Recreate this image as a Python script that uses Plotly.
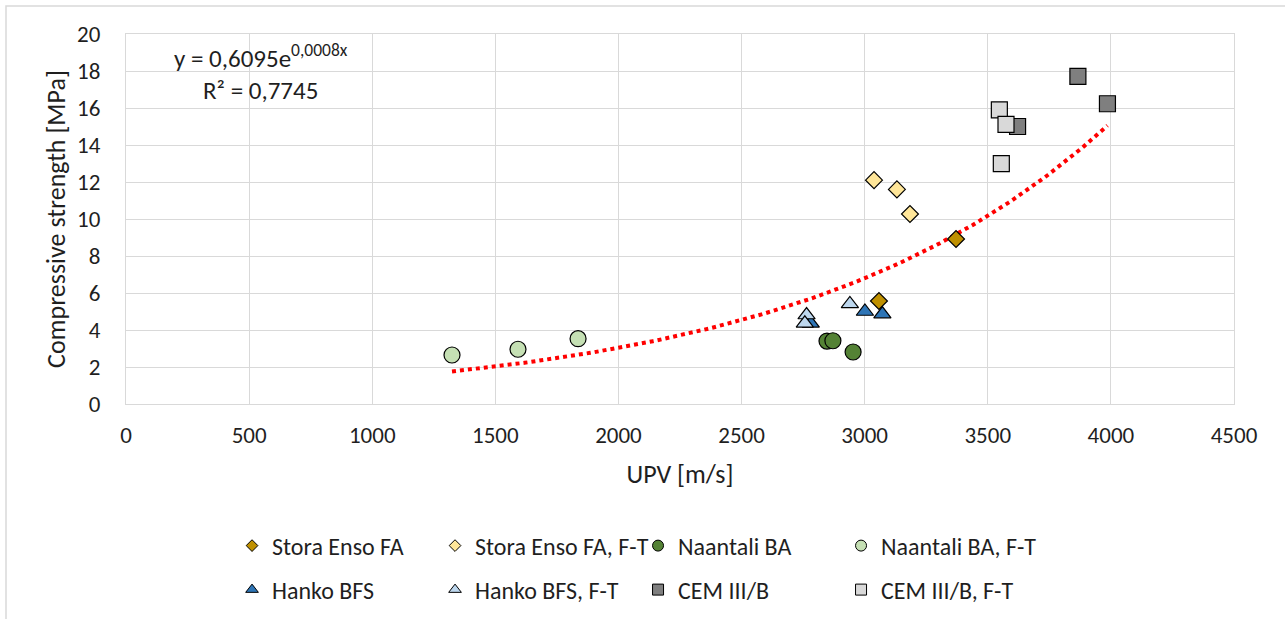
import numpy as np
import plotly.graph_objects as go

# ---- data ----
series_names = ["Stora Enso FA", "Stora Enso FA, F-T", "Naantali BA", "Naantali BA, F-T",
                "Hanko BFS", "Hanko BFS, F-T", "CEM III/B", "CEM III/B, F-T"]

stora_x = [3371, 3058]
stora_y = [8.92, 5.57]
stora_ft_x = [3038, 3131, 3184]
stora_ft_y = [12.1, 11.6, 10.27]
naan_x = [2847, 2871, 2953]
naan_y = [3.40, 3.42, 2.81]
naan_ft_x = [1324, 1592, 1836]
naan_ft_y = [2.65, 2.96, 3.53]
hanko_x = [3001, 3072, 2781]
hanko_y = [5.0, 4.86, 4.36]
hanko_ft_x = [2940, 2764, 2757]
hanko_ft_y = [5.41, 4.81, 4.36]
cem_x = [3866, 3986, 3621]
cem_y = [17.71, 16.23, 15.0]
cem_ft_x = [3547, 3574, 3555]
cem_ft_y = [15.9, 15.12, 12.99]

xs = [stora_x, stora_ft_x, naan_x, naan_ft_x, hanko_x, hanko_ft_x, cem_x, cem_ft_x]
ys = [stora_y, stora_ft_y, naan_y, naan_ft_y, hanko_y, hanko_ft_y, cem_y, cem_ft_y]

colors = ["#bf9000", "#ffe699", "#548235", "#c5e0b4", "#2e75b6", "#bdd7ee", "#7f7f7f", "#d9d9d9"]
symbols = ["diamond", "diamond", "circle", "circle", "triangle-up", "triangle-up", "square", "square"]
plot_sizes = [13, 13, 16, 16, 15, 15, 16, 16]
legend_sizes = [9, 9, 11, 11, 11, 11, 11, 11]

x_ticks = [0, 500, 1000, 1500, 2000, 2500, 3000, 3500, 4000, 4500]
y_ticks = [0, 2, 4, 6, 8, 10, 12, 14, 16, 18, 20]

eq_text = "y = 0,6095e<sup>0,0008x</sup><br>R² = 0,7745"

FONT = "Carlito, Calibri, Lato, sans-serif"
TXT = "#1f1f1f"

fig = go.Figure()

# exponential trendline (least squares on log y, as in the spreadsheet trendline)
all_x = np.concatenate([np.array(v, float) for v in xs])
all_y = np.concatenate([np.array(v, float) for v in ys])
b, ln_a = np.polyfit(all_x, np.log(all_y), 1)
tx = np.linspace(all_x.min(), all_x.max(), 200)
ty = np.exp(ln_a) * np.exp(b * tx)
fig.add_trace(go.Scatter(x=tx, y=ty, mode="lines", showlegend=False, hoverinfo="skip",
                         line=dict(color="#ff0000", width=4, dash="4px,4px")))

for i, name in enumerate(series_names):
    fig.add_trace(go.Scatter(
        x=xs[i], y=ys[i], mode="markers", name=name, showlegend=False,
        marker=dict(symbol=symbols[i], size=plot_sizes[i], color=colors[i],
                    line=dict(color="#000000", width=1.2))))

for i, name in enumerate(series_names):
    fig.add_trace(go.Scatter(
        x=[None], y=[None], mode="markers", name=name,
        legend="legend" if i < 4 else "legend2",
        marker=dict(symbol=symbols[i], size=legend_sizes[i], color=colors[i],
                    line=dict(color="#000000", width=1))))

axis_common = dict(showgrid=True, gridcolor="#d9d9d9", gridwidth=1, zeroline=False,
                   showline=True, linecolor="#d9d9d9", linewidth=1, mirror=True,
                   ticks="", automargin=False, tickfont=dict(family=FONT, size=23, color=TXT))

fig.update_xaxes(range=[0, 4500], tickvals=x_ticks, ticklabelstandoff=10,
                 title=dict(text="UPV [m/s]", font=dict(family=FONT, size=26, color=TXT), standoff=17),
                 **axis_common)
fig.update_yaxes(range=[0, 20], tickvals=y_ticks, ticklabelstandoff=20,
                 title=dict(text="Compressive strength [MPa]", font=dict(family=FONT, size=26, color=TXT), standoff=3),
                 **axis_common)

fig.add_annotation(xref="paper", yref="paper", x=0.1218, y=0.897, text=eq_text, showarrow=False,
                   align="center", xanchor="center", yanchor="middle",
                   font=dict(family=FONT, size=25, color=TXT))

# outer chart border
fig.add_shape(type="rect", xref="paper", yref="paper", x0=-0.1083, y0=-1.0, x1=1.2, y1=1.0757,
              line=dict(color="#d9d9d9", width=1.5), fillcolor="rgba(0,0,0,0)", layer="below")

leg_common = dict(orientation="h", xanchor="left", yanchor="middle", yref="container",
                  entrywidth=158, itemwidth=30, font=dict(family=FONT, size=24, color=TXT),
                  bgcolor="rgba(0,0,0,0)", borderwidth=0, tracegroupgap=0)
fig.update_layout(
    width=1285, height=619,
    margin=dict(l=126, r=51, t=34, b=215, autoexpand=False),
    paper_bgcolor="white", plot_bgcolor="white",
    legend=dict(x=0.0957, y=1 - 546 / 619, **leg_common),
    legend2=dict(x=0.0957, y=1 - 590 / 619, **leg_common),
)

fig.write_html("out.html")
